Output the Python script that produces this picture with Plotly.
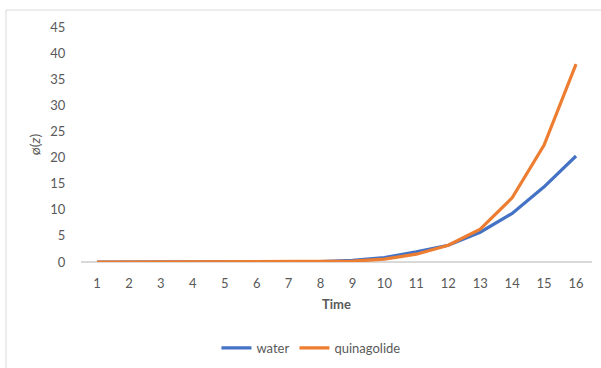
import plotly.graph_objects as go

# Time steps and the two series of phi(z)
time = list(range(1, 17))
water = [0, 0, 0, 0, 0, 0, 0, 0.1, 0.3, 0.85, 1.95, 3.2, 5.7, 9.3, 14.4, 20.3]
quinagolide = [0, 0, 0, 0, 0, 0, 0, 0.05, 0.15, 0.55, 1.5, 3.2, 6.3, 12.3, 22.4, 37.9]
y_ticks = [0, 5, 10, 15, 20, 25, 30, 35, 40, 45]

FONT = "Lato"
GREY = "#595959"

fig = go.Figure()
fig.add_trace(go.Scatter(x=time, y=water, mode="lines", name="water",
                         line=dict(color="#4472C4", width=3.2)))
fig.add_trace(go.Scatter(x=time, y=quinagolide, mode="lines", name="quinagolide",
                         line=dict(color="#ED7D31", width=3.2)))

L, R, T, B = 81, 9, 27, 106
W, H = 601, 368
pw, ph = W - L - R, H - T - B

# chart-area border
fig.add_shape(type="rect", xref="paper", yref="paper", layer="below",
              x0=(6 - L) / pw, x1=(610 - L) / pw,
              y0=-(380 - (H - B)) / ph, y1=1 + (T - 10) / ph,
              line=dict(color="#D9D9D9", width=1), fillcolor="rgba(0,0,0,0)")

fig.update_layout(
    width=W, height=H,
    margin=dict(l=L, r=R, t=T, b=B, autoexpand=False),
    paper_bgcolor="white", plot_bgcolor="white",
    font=dict(family=FONT, size=13, color=GREY),
    showlegend=True,
    legend=dict(orientation="h", x=0.45, xanchor="center", y=-(348 - (H - B)) / ph,
                yanchor="middle", font=dict(size=13, color=GREY), tracegroupgap=0),
    xaxis=dict(range=[0.5, 16.5], tickvals=time, ticktext=[str(t) for t in time],
               showgrid=False, zeroline=False, showline=False, automargin=False,
               ticks="outside", ticklen=9, tickcolor="rgba(0,0,0,0)",
               tickfont=dict(size=13, color=GREY),
               title=dict(text="<b>Time</b>", font=dict(size=13, color=GREY), standoff=10)),
    yaxis=dict(range=[0, 45], tickvals=y_ticks, showgrid=False, automargin=False,
               zeroline=True, zerolinecolor="#D9D9D9", zerolinewidth=1.5,
               showline=False, ticks="outside", ticklen=12, tickcolor="rgba(0,0,0,0)",
               tickfont=dict(size=13, color=GREY),
               title=dict(text="ø(<i>z</i>)", font=dict(size=14, color=GREY), standoff=6)),
)

fig.write_html("out.html")
